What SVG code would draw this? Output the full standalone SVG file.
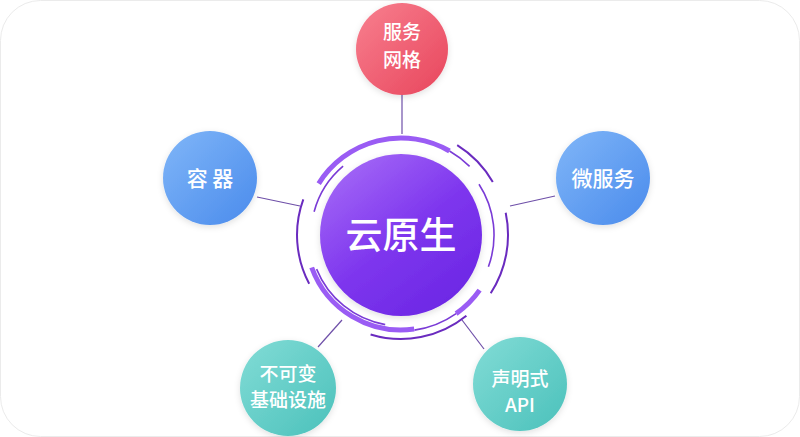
<svg xmlns="http://www.w3.org/2000/svg" width="800" height="437" viewBox="0 0 800 437">
  <style>
    .lbl { font-family: "Noto Sans CJK SC", "Noto Sans", sans-serif; fill: #ffffff; text-anchor: middle; font-size: 19px; font-weight: 500; }
    .big { font-size: 21px; }
    .ctr { font-family: "Noto Sans CJK SC", "Noto Sans", sans-serif; fill: #ffffff; text-anchor: middle; font-size: 37px; font-weight: 500; }
    .conn { stroke: #6e4fa8; stroke-width: 1.2; fill: none; }
    .thick { stroke: #9a5cf4; stroke-width: 5; fill: none; }
    .thin { stroke: #7a3bd6; stroke-width: 1.6; fill: none; }
    .outer { stroke: #6a2bbf; stroke-width: 2; fill: none; }
  </style>
  <defs>
    <linearGradient id="gPink" x1="0" y1="0" x2="1" y2="1">
      <stop offset="0" stop-color="#f8808f"/>
      <stop offset="1" stop-color="#e8455c"/>
    </linearGradient>
    <linearGradient id="gBlue" x1="0" y1="0" x2="1" y2="1">
      <stop offset="0" stop-color="#80b6f8"/>
      <stop offset="1" stop-color="#4a8bec"/>
    </linearGradient>
    <linearGradient id="gTeal" x1="0" y1="0" x2="1" y2="1">
      <stop offset="0" stop-color="#82dcd6"/>
      <stop offset="1" stop-color="#4bc1bb"/>
    </linearGradient>
    <linearGradient id="gPurple" x1="0.1" y1="0.1" x2="0.8" y2="1">
      <stop offset="0" stop-color="#a266f6"/>
      <stop offset="0.5" stop-color="#7e36ee"/>
      <stop offset="1" stop-color="#6b26e4"/>
    </linearGradient>
    <filter id="sh" x="-30%" y="-30%" width="160%" height="160%">
      <feDropShadow dx="0" dy="2" stdDeviation="3" flood-color="#000000" flood-opacity="0.12"/>
    </filter>
  </defs>

  <rect x="0.5" y="0.5" width="799" height="436" rx="40" ry="40" fill="#ffffff" stroke="#ebebeb" stroke-width="1"/>

  <g id="connectors">
    <line class="conn" x1="402" y1="95" x2="402" y2="134"/>
    <line class="conn" x1="257" y1="197" x2="300" y2="206"/>
    <line class="conn" x1="555" y1="196" x2="510" y2="206"/>
    <line class="conn" x1="318" y1="347" x2="342" y2="320"/>
    <line class="conn" x1="484" y1="349" x2="462" y2="320"/>
  </g>

  <g id="ring">
    <path class="thick" d="M318.7,183.6 A97,97 0 0 1 449.5,151.0"/>
    <path class="thin" d="M449.5,151.0 A97,97 0 0 1 469.6,166.4"/>
    <path class="thin" d="M314.1,211.7 A90,90 0 0 1 343.1,166.1"/>
    <path class="outer" d="M309.2,283.8 A104,104 0 0 1 303.3,199.4"/>
    <path class="outer" d="M457.2,145.1 A106,106 0 0 1 492.8,182.0"/>
    <path class="thin" d="M479.0,184.3 A93,93 0 0 1 488.4,266.8"/>
    <path class="outer" d="M505.7,212.8 A107,107 0 0 1 490.7,293.3"/>
    <path class="thick" d="M479.6,290.1 A96,96 0 0 1 456.1,313.6"/>
    <path class="thin" d="M456.1,313.6 A96,96 0 0 1 414.4,330.1"/>
    <path class="thick" d="M414.2,329.1 A95,95 0 0 1 311.7,267.5"/>
    <path class="thin" d="M385.2,324.6 A91,91 0 0 1 316.6,269.1"/>
    <path class="outer" d="M466.4,315.8 A104,104 0 0 1 370.6,334.5"/>
  </g>

  <g id="center">
    <circle cx="401" cy="235" r="81" fill="url(#gPurple)" filter="url(#sh)"/>
    <text class="ctr" x="401" y="249">云原生</text>
  </g>

  <g id="node-service-mesh">
    <circle cx="402" cy="49" r="46" fill="url(#gPink)" filter="url(#sh)"/>
    <text class="lbl" x="402" y="39">服务</text>
    <text class="lbl" x="402" y="67">网格</text>
  </g>

  <g id="node-container">
    <circle cx="210" cy="178" r="47" fill="url(#gBlue)" filter="url(#sh)"/>
    <text class="lbl big" x="210" y="186">容 器</text>
  </g>

  <g id="node-microservice">
    <circle cx="603" cy="178" r="47" fill="url(#gBlue)" filter="url(#sh)"/>
    <text class="lbl big" x="603" y="186">微服务</text>
  </g>

  <g id="node-immutable">
    <circle cx="288" cy="388" r="48" fill="url(#gTeal)" filter="url(#sh)"/>
    <text class="lbl" x="288" y="381">不可变</text>
    <text class="lbl" x="288" y="407">基础设施</text>
  </g>

  <g id="node-declarative-api">
    <circle cx="520" cy="384" r="47" fill="url(#gTeal)" filter="url(#sh)"/>
    <text class="lbl" x="520" y="386">声明式</text>
    <text class="lbl" x="520" y="412">API</text>
  </g>
</svg>
